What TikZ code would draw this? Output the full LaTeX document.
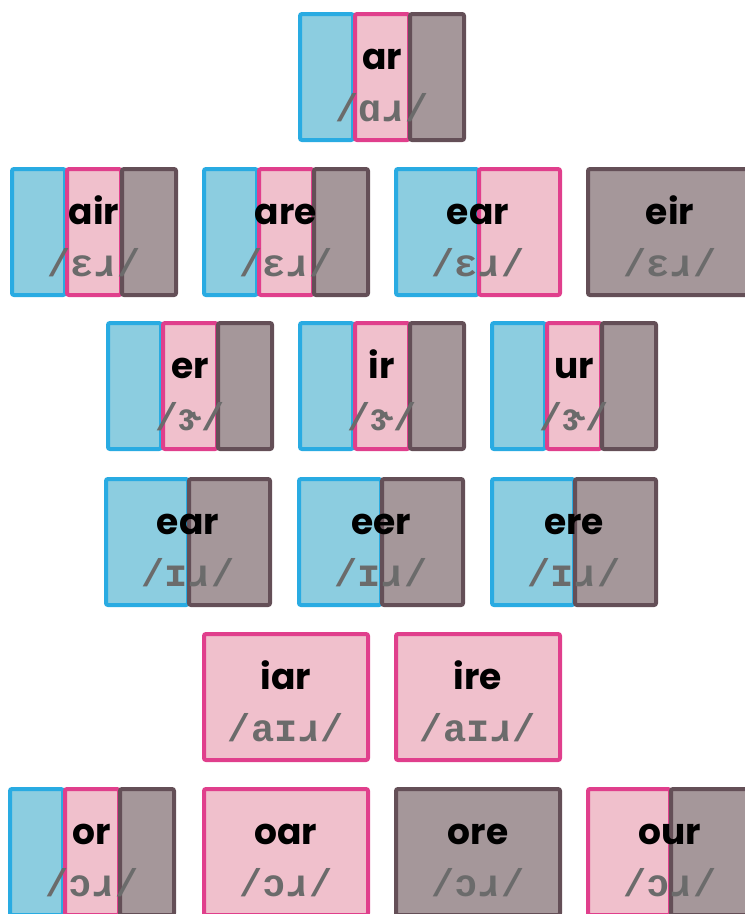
\documentclass[tikz,border=0pt]{standalone}
\usepackage{fontspec}
\newfontfamily\lblfont{Poppins}
\newfontfamily\ipafont{Liberation Mono}
\definecolor{bluefill}{HTML}{8CCDE0}
\definecolor{blueline}{HTML}{29ABE2}
\definecolor{pinkfill}{HTML}{F0C0CC}
\definecolor{pinkline}{HTML}{E03F8C}
\definecolor{brownfill}{HTML}{A5979A}
\definecolor{brownline}{HTML}{644F57}
\definecolor{ipagray}{HTML}{6B6B6B}
\begin{document}
\begin{tikzpicture}[x=0.75pt, y=-0.75pt,
    blu/.style={fill=bluefill, draw=blueline, line width=3pt, rounded corners=1.5pt},
    pnk/.style={fill=pinkfill, draw=pinkline, line width=3pt, rounded corners=1.5pt},
    brn/.style={fill=brownfill, draw=brownline, line width=3pt, rounded corners=1.5pt},
    lbl/.style={anchor=base, inner sep=0pt, font=\lblfont\bfseries\fontsize{27}{30}\selectfont},
    ipa/.style={anchor=base, inner sep=0pt, text=ipagray, font=\ipafont\bfseries\fontsize{29}{32}\selectfont}]
    \useasboundingbox (0,0) rectangle (745,914);
    \clip (0,0) rectangle (745,914);

    % three colours side by side
    \foreach \x/\y in {298/12, 10/167, 202/167, 106/321, 298/321, 490/321, 8/787} {
        \draw[blu] (\x+2,\y+2) rectangle (\x+55,\y+128);
        \draw[pnk] (\x+57,\y+2) rectangle (\x+111,\y+128);
        \draw[brn] (\x+112,\y+2) rectangle (\x+166,\y+128);
    }
    % blue and pink halves
    \foreach \x/\y in {394/167} {
        \draw[blu] (\x+2,\y+2) rectangle (\x+84,\y+128);
        \draw[pnk] (\x+85,\y+2) rectangle (\x+166,\y+128);
    }
    % blue and brown halves
    \foreach \x/\y in {104/477, 297/477, 490/477} {
        \draw[blu] (\x+2,\y+2) rectangle (\x+84,\y+128);
        \draw[brn] (\x+85,\y+2) rectangle (\x+166,\y+128);
    }
    % pink and brown halves
    \foreach \x/\y in {586/787} {
        \draw[pnk] (\x+2,\y+2) rectangle (\x+84,\y+128);
        \draw[brn] (\x+85,\y+2) rectangle (\x+166,\y+128);
    }
    % one colour only
    \foreach \x/\y in {202/632, 394/632, 202/787} {
        \draw[pnk] (\x+2,\y+2) rectangle (\x+166,\y+128);
    }
    \foreach \x/\y in {586/167, 394/787} {
        \draw[brn] (\x+2,\y+2) rectangle (\x+166,\y+128);
    }

    % spellings and sounds
    \foreach \x/\y/\nm/\word/\snd in {
        298/12/ar/ar/ɑɹ,
        10/167/air/air/ɛɹ, 202/167/are/are/ɛɹ, 394/167/earA/ear/ɛɹ, 586/167/eir/eir/ɛɹ,
        106/321/er/er/ɝ, 298/321/ir/ir/ɝ, 490/321/ur/ur/ɝ,
        104/477/earB/ear/ɪɹ, 297/477/eer/eer/ɪɹ, 490/477/ere/ere/ɪɹ,
        202/632/iar/iar/aɪɹ, 394/632/ire/ire/aɪɹ,
        8/787/or/or/ɔɹ, 202/787/oar/oar/ɔɹ, 394/787/ore/ore/ɔɹ, 586/787/our/our/ɔɹ} {
        \node[lbl] (\nm) at (\x+84,\y+57) {\word};
        \node[ipa] (\nm-ipa) at (\x+84,\y+109) {/\snd/};
    }
\end{tikzpicture}
\end{document}
